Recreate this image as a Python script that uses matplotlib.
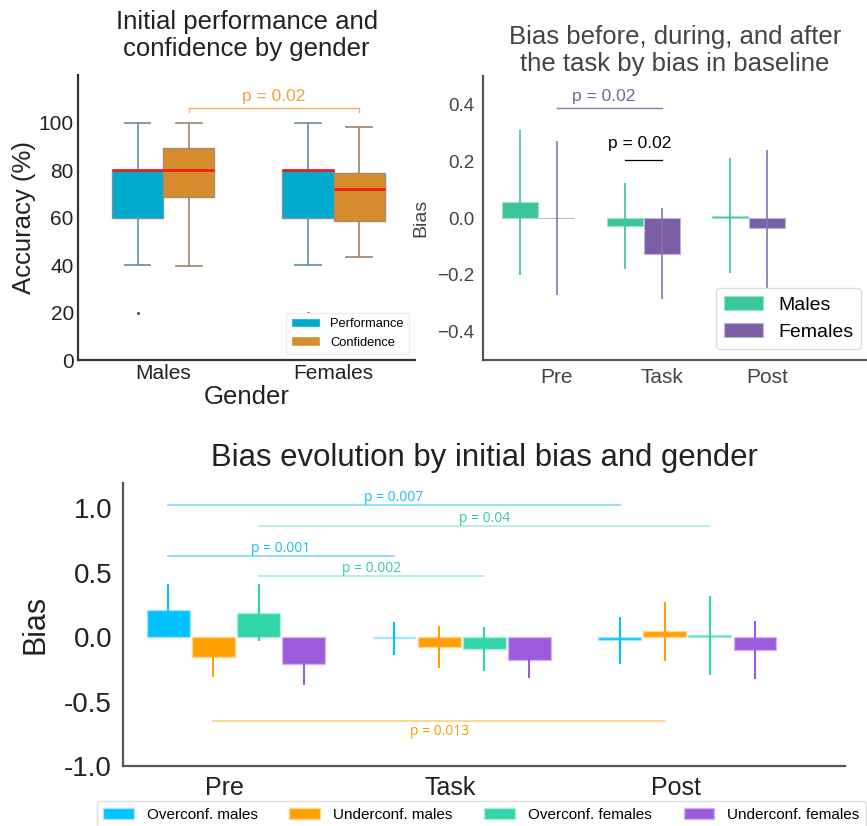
import matplotlib
matplotlib.use("Agg")
import matplotlib.pyplot as plt
from matplotlib.patches import Patch
import numpy as np

plt.rcParams['font.family'] = ['Liberation Sans', 'DejaVu Sans']

# --- initial accuracy / confidence boxplots ---
genders = ["Males", "Females"]
box_series = ["Performance", "Confidence"]
box_q1 = {"Performance": [60, 60], "Confidence": [68.5, 58.7]}
box_med = {"Performance": [80, 80], "Confidence": [80, 72]}
box_q3 = {"Performance": [80, 80], "Confidence": [89.5, 79]}
box_lo = {"Performance": [40, 40], "Confidence": [39.5, 43.5]}
box_hi = {"Performance": [100, 100], "Confidence": [100, 98]}
box_fliers = {"Performance": [[20], [20]], "Confidence": [[], []]}
box_colors = {"Performance": "#00aacd", "Confidence": "#d58e2b"}
whisk_colors = {"Performance": "#6b97a6", "Confidence": "#a48c74"}

# --- bias by gender ---
phases = ["Pre", "Task", "Post"]
males_bias = [0.055, -0.028, 0.008]
males_err = [0.255, 0.15, 0.203]
females_bias = [0.0, -0.126, -0.034]
females_err = [0.272, 0.16, 0.272]

# --- bias evolution by initial bias and gender ---
groups = ["Overconf. males", "Underconf. males", "Overconf. females", "Underconf. females"]
group_bias = {
    "Overconf. males": [0.215, -0.008, -0.025],
    "Underconf. males": [-0.155, -0.075, 0.045],
    "Overconf. females": [0.19, -0.09, 0.015],
    "Underconf. females": [-0.205, -0.175, -0.1],
}
group_err = {
    "Overconf. males": [0.2, 0.126, 0.183],
    "Underconf. males": [0.15, 0.166, 0.228],
    "Overconf. females": [0.22, 0.169, 0.305],
    "Underconf. females": [0.165, 0.138, 0.228],
}
group_colors = ["#00c2ff", "#ffa000", "#30d6a8", "#9b5bdc"]
group_edges = ["#a6e8ff", "#ffd590", "#a8eed8", "#d2b6f2"]
group_lines = ["#7fdcff", "#ffd17a", "#aaeedb", "#ccb0f0"]

fig = plt.figure(figsize=(8.67, 8.26), dpi=100)

# ---------------- top left ----------------
ax1 = fig.add_axes([0.090, 0.564, 0.389, 0.345])
x = np.arange(len(genders))
offsets = {"Performance": -0.15, "Confidence": 0.15}
for s in box_series:
    stats = []
    for i in range(len(genders)):
        stats.append(dict(q1=box_q1[s][i], med=box_med[s][i], q3=box_q3[s][i],
                          whislo=box_lo[s][i], whishi=box_hi[s][i],
                          fliers=box_fliers[s][i]))
    ax1.bxp(stats, positions=x + offsets[s], widths=0.3, patch_artist=True,
            capwidths=0.15,
            boxprops=dict(facecolor=box_colors[s], edgecolor=whisk_colors[s], lw=1),
            whiskerprops=dict(color=whisk_colors[s], lw=1.3),
            capprops=dict(color=whisk_colors[s], lw=1.3),
            medianprops=dict(color="#ee1c1c", lw=2),
            flierprops=dict(marker=".", markersize=2.5, markerfacecolor="#44606a",
                            markeredgecolor="#44606a"))
ax1.set_xlim(-0.5, 1.48)
ax1.set_ylim(0, 120)
ax1.set_yticks([0, 20, 40, 60, 80, 100])
ax1.set_xticks(x)
ax1.set_xticklabels(genders)
ax1.tick_params(length=0, labelsize=15, labelcolor="#222222", pad=3)
for sp in ["top", "right"]:
    ax1.spines[sp].set_visible(False)
for sp in ["left", "bottom"]:
    ax1.spines[sp].set_color("#333333")
    ax1.spines[sp].set_linewidth(1.6)
ax1.set_ylabel("Accuracy (%)", fontsize=18.5, color="#222222", labelpad=2)
ax1.set_xlabel("Gender", fontsize=18.5, color="#222222", labelpad=1)
ax1.set_title("Initial performance and\nconfidence by gender", fontsize=18.5,
              color="#222222", pad=14, linespacing=1.15)
# significance bracket between confidence boxes
ax1.plot([0.15, 0.15, 1.15, 1.15], [104.5, 106, 106, 104.5], color="#f7b060", lw=1)
ax1.text(0.65, 108, "p = 0.02", color="#f5a040", fontsize=12.5, ha="center", va="bottom")
ax1.legend(handles=[Patch(facecolor=box_colors[s], edgecolor="white") for s in box_series],
           labels=box_series, loc="lower right", fontsize=9.3, frameon=True,
           framealpha=1, edgecolor="#eeeeee", handlelength=2.2,
           bbox_to_anchor=(1.0, 0.0))

# ---------------- top right ----------------
ax2 = fig.add_axes([0.557, 0.564, 0.443, 0.344])
xp = np.arange(len(phases))
green, purple = "#3cc49c", "#7b5fa5"
ax2.bar(xp - 0.35, males_bias, width=0.34, color=green, edgecolor="#9fe2cd", lw=0.8,
        yerr=males_err, ecolor=green, error_kw=dict(lw=1.2, capsize=0), label="Males")
ax2.bar(xp, females_bias, width=0.34, color=purple, edgecolor="#c2b2dc", lw=0.8,
        yerr=females_err, ecolor="#8a72b4", error_kw=dict(lw=1.2, capsize=0),
        label="Females")
ax2.set_xlim(-0.7, 2.95)
ax2.set_ylim(-0.5, 0.5)
ax2.set_yticks([-0.4, -0.2, 0.0, 0.2, 0.4])
ax2.set_xticks(xp)
ax2.set_xticklabels(phases)
ax2.tick_params(axis="y", length=0, labelsize=13.5, labelcolor="#444444", pad=6)
ax2.tick_params(axis="x", length=0, labelsize=15, labelcolor="#444444", pad=6)
for sp in ["top", "right"]:
    ax2.spines[sp].set_visible(False)
for sp in ["left", "bottom"]:
    ax2.spines[sp].set_color("#555555")
    ax2.spines[sp].set_linewidth(1.6)
ax2.set_ylabel("Bias", fontsize=14, color="#444444", labelpad=6)
ax2.set_title("Bias before, during, and after\nthe task by bias in baseline",
              fontsize=18.5, color="#444444", pad=2, linespacing=1.15)
ax2.plot([0, 1], [0.387, 0.387], color="#8f78c2", lw=1)
ax2.text(0.45, 0.40, "p = 0.02", color="#7b5fa5", fontsize=12.5, ha="center", va="bottom")
ax2.plot([0.65, 1], [0.204, 0.204], color="black", lw=0.9)
ax2.text(0.79, 0.235, "p = 0.02", color="black", fontsize=12.5, ha="center", va="bottom")
ax2.legend(loc="lower right", fontsize=14, frameon=True, framealpha=1,
           edgecolor="#dddddd", handlelength=2.0, bbox_to_anchor=(1.0, 0.02),
           borderaxespad=0.3)

# ---------------- bottom ----------------
ax3 = fig.add_axes([0.142, 0.0726, 0.833, 0.343])
group_offsets = [-0.25, -0.05, 0.15, 0.35]
for k, g in enumerate(groups):
    ax3.bar(xp + group_offsets[k], group_bias[g], width=0.19, color=group_colors[k],
            edgecolor=group_edges[k], lw=1, yerr=group_err[g], ecolor=group_colors[k],
            error_kw=dict(lw=1.5, capsize=0), label=g)
ax3.set_xlim(-0.45, 2.75)
ax3.set_ylim(-1.0, 1.2)
ax3.set_yticks([-1.0, -0.5, 0.0, 0.5, 1.0])
ax3.set_yticklabels(["-1.0", "-0.5", "0.0", "0.5", "1.0"])
ax3.set_xticks(xp)
ax3.set_xticklabels(phases)
ax3.tick_params(axis="y", length=0, labelsize=20, labelcolor="#222222", pad=8)
ax3.tick_params(axis="x", length=0, labelsize=18, labelcolor="#222222", pad=7)
for sp in ["top", "right"]:
    ax3.spines[sp].set_visible(False)
for sp in ["left", "bottom"]:
    ax3.spines[sp].set_color("#555555")
    ax3.spines[sp].set_linewidth(1.6)
ax3.set_ylabel("Bias", fontsize=22, color="#222222", labelpad=10)
ax3.set_title("Bias evolution by initial bias and gender", fontsize=22.4,
              color="#222222", pad=12)

# pairwise comparisons: (group index, from phase, to phase, y, p label, label above)
comparisons = [
    (0, 0, 2, 1.03, "p = 0.007", True),
    (2, 0, 2, 0.865, "p = 0.04", True),
    (0, 0, 1, 0.632, "p = 0.001", True),
    (2, 0, 1, 0.478, "p = 0.002", True),
    (1, 0, 2, -0.647, "p = 0.013", False),
]
text_colors = ["#1cbcf5", "#f5a000", "#33cc9c", "#9b5bdc"]
for k, a, b, yv, lab, above in comparisons:
    xa, xb = a + group_offsets[k], b + group_offsets[k]
    ax3.plot([xa, xb], [yv, yv], color=group_lines[k], lw=1.2)
    ax3.text((xa + xb) / 2, yv + (0.0 if above else -0.03), lab, color=text_colors[k],
             fontsize=10, ha="center", va="bottom" if above else "top",
             family=["Open Sans", "DejaVu Sans"])
ax3.legend(loc="upper center", bbox_to_anchor=(0.496, -0.125), ncol=4, fontsize=11,
           frameon=True, framealpha=1, edgecolor="#dddddd", handlelength=2.0,
           handletextpad=0.85, columnspacing=2.1, borderaxespad=0)

fig.savefig("out.png", dpi=100)
